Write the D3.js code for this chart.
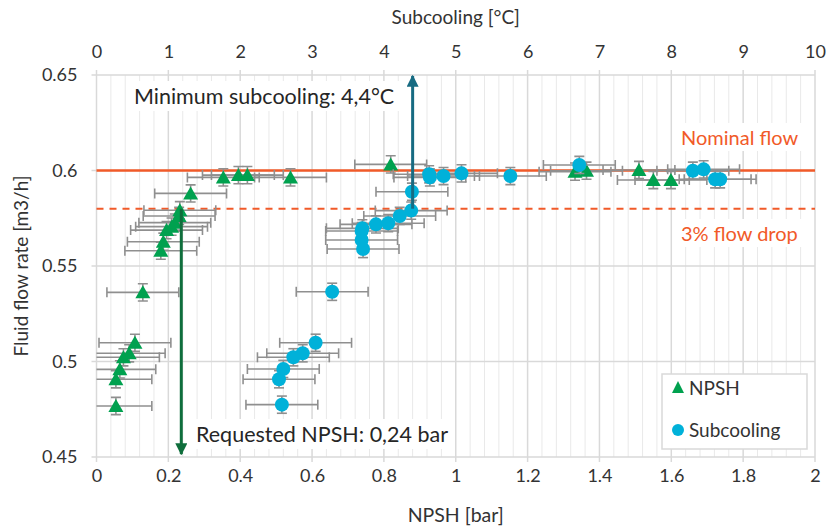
<!DOCTYPE html>
<html><head><meta charset="utf-8">
<script src="https://cdn.jsdelivr.net/npm/d3@7"></script>
<style>
html,body{margin:0;padding:0;background:#fff;}
svg{display:block;font-family:Lato, "Open Sans", sans-serif;}
</style></head>
<body>
<svg id="chart" width="827" height="530"></svg>
<script>
// ---- data ----
// NPSH series: x in bar, y in m3/h
const npshX = [0.054,0.054,0.065,0.075,0.091,0.107,0.129,
  0.179,0.186,0.195,0.209,0.218,0.230,0.232,0.262,
  0.353,0.395,0.420,0.540,0.819,
  1.332,1.364,1.510,1.550,1.599];
const npshY = [0.4767,0.4907,0.4959,0.5022,0.5043,0.5098,0.5362,
  0.5580,0.5627,0.5688,0.5706,0.5727,0.5762,0.5792,0.5880,
  0.5964,0.5976,0.5976,0.5964,0.6032,
  0.5994,0.5999,0.6003,0.5950,0.5950];
// Subcooling series: x in °C (top axis), y in m3/h
const subX = [2.58,2.54,2.60,2.74,2.87,3.05,3.28,
  3.71,3.69,3.69,3.70,3.89,4.06,4.22,4.38,4.39,
  4.63,4.64,4.83,5.08,5.76,
  6.72,8.30,8.45,8.61,8.68];
const subY = [0.4774,0.4907,0.4961,0.5022,0.5043,0.5098,0.5365,
  0.5589,0.5636,0.5683,0.5697,0.5718,0.5724,0.5762,0.5790,0.5889,
  0.5980,0.5964,0.5971,0.5985,0.5971,
  0.6029,0.5999,0.6006,0.5954,0.5954];
const npshErr = 0.1;      // bar
const subErr = 0.5;       // °C
const flowErr = 0.0045;   // m3/h
const nominalFlow = 0.6;
const dropFlow = 0.58;
const requestedNPSH = 0.236;
const minSubcooling = 4.4;
const xTicks = [0,0.2,0.4,0.6,0.8,1,1.2,1.4,1.6,1.8,2];
const xTickLabels = ["0","0.2","0.4","0.6","0.8","1","1.2","1.4","1.6","1.8","2"];
const topTicks = [0,1,2,3,4,5,6,7,8,9,10];
const yTicks = [0.45,0.5,0.55,0.6,0.65];
const yTickLabels = ["0.45","0.5","0.55","0.6","0.65"];

// ---- scales ----
const L=96.5, R=815, T=75, B=457;
const x = d3.scaleLinear().domain([0,2]).range([L,R]);
const xt = d3.scaleLinear().domain([0,10]).range([L,R]);
const y = d3.scaleLinear().domain([0.45,0.65]).range([B,T]);

const svg = d3.select("#chart");
const txt = "#333333", gridMajor="#d9d9d9", gridMinor="#e9e9e9";
const orange="#f15a29", green="#00a14f", blue="#00b1d9", errC="#8f8f8f";

svg.append("defs").append("clipPath").attr("id","clip")
  .append("rect").attr("x",L).attr("y",T-2).attr("width",R-L).attr("height",B-T+4);

// minor vertical grid (0.2 °C steps)
const g = svg.append("g");
g.selectAll("line.minor").data(d3.range(0,10.001,0.2).filter(v=>Math.abs(v-Math.round(v))>1e-6))
  .join("line").attr("x1",d=>xt(d)).attr("x2",d=>xt(d)).attr("y1",T).attr("y2",B)
  .attr("stroke",gridMinor).attr("stroke-width",1);
g.selectAll("line.major").data(topTicks).join("line")
  .attr("x1",d=>xt(d)).attr("x2",d=>xt(d)).attr("y1",T-5).attr("y2",B)
  .attr("stroke",gridMajor).attr("stroke-width",1.5);
g.selectAll("line.h").data(yTicks).join("line")
  .attr("x1",L-5).attr("x2",R).attr("y1",d=>y(d)).attr("y2",d=>y(d))
  .attr("stroke",gridMajor).attr("stroke-width",1.5);
// bottom ticks
g.selectAll("line.bt").data(xTicks).join("line")
  .attr("x1",d=>x(d)).attr("x2",d=>x(d)).attr("y1",B).attr("y2",B+5)
  .attr("stroke",gridMajor).attr("stroke-width",1.5);

// axes labels
const bAxis = d3.axisBottom(x).tickValues(xTicks).tickFormat((d,i)=>xTickLabels[i]).tickSize(0).tickPadding(12);
svg.append("g").attr("transform",`translate(0,${B})`).call(bAxis)
  .call(s=>s.select(".domain").remove())
  .selectAll("text").attr("fill",txt).style("font-size","18px").style("font-family","Lato");
const tAxis = d3.axisTop(xt).tickValues(topTicks).tickSize(0).tickPadding(17);
svg.append("g").attr("transform",`translate(0,${T})`).call(tAxis)
  .call(s=>s.select(".domain").remove())
  .selectAll("text").attr("fill",txt).style("font-size","18px").style("font-family","Lato");
const lAxis = d3.axisLeft(y).tickValues(yTicks).tickFormat((d,i)=>yTickLabels[i]).tickSize(0).tickPadding(19);
svg.append("g").attr("transform",`translate(${L},0)`).call(lAxis)
  .call(s=>s.select(".domain").remove())
  .selectAll("text").attr("fill",txt).style("font-size","18px").style("font-family","Lato");

svg.append("text").attr("x",(L+R)/2).attr("y",24).attr("text-anchor","middle")
  .attr("fill",txt).style("font-size","19px").text("Subcooling [°C]");
svg.append("text").attr("x",(L+R)/2).attr("y",522).attr("text-anchor","middle")
  .attr("fill",txt).style("font-size","19.5px").text("NPSH [bar]");
svg.append("text").attr("transform",`translate(28,${(T+B)/2}) rotate(-90)`).attr("text-anchor","middle")
  .attr("fill",txt).style("font-size","19px").text("Fluid flow rate [m3/h]");

// reference lines
const ref = svg.append("g");
ref.append("line").attr("x1",L).attr("x2",R).attr("y1",y(nominalFlow)).attr("y2",y(nominalFlow))
  .attr("stroke",orange).attr("stroke-width",2.5);
ref.append("line").attr("x1",L).attr("x2",R).attr("y1",y(dropFlow)).attr("y2",y(dropFlow))
  .attr("stroke",orange).attr("stroke-width",2).attr("stroke-dasharray","7,6");

// label helper with white box
function label(xp, yp, s, color, size){
  const grp = svg.append("g");
  const t = grp.append("text").attr("x",xp).attr("y",yp)
    .attr("fill",color).style("font-size",(size||20)+"px").text(s);
  const bb = t.node().getBBox();
  grp.insert("rect","text").attr("x",bb.x-5).attr("y",bb.y-2).attr("width",bb.width+10).attr("height",bb.height+4).attr("fill","#fff");
  return grp;
}
label(681,145,"Nominal flow",orange,20);
label(681,241,"3% flow drop",orange,20);

// data layer
const data = svg.append("g").attr("clip-path","url(#clip)");
const npsh = npshX.map((v,i)=>({x:x(v), x0:x(v-npshErr), x1:x(v+npshErr), y:y(npshY[i]), y0:y(npshY[i]-flowErr), y1:y(npshY[i]+flowErr)}));
const subc = subX.map((v,i)=>({x:xt(v), x0:xt(v-subErr), x1:xt(v+subErr), y:y(subY[i]), y0:y(subY[i]-flowErr), y1:y(subY[i]+flowErr)}));

function errorBars(sel, pts){
  const e = sel.append("g").attr("stroke",errC).attr("stroke-width",1.6).attr("fill","none");
  pts.forEach(p=>{
    e.append("line").attr("x1",p.x0).attr("x2",p.x1).attr("y1",p.y).attr("y2",p.y);
    e.append("line").attr("x1",p.x0).attr("x2",p.x0).attr("y1",p.y-5).attr("y2",p.y+5);
    e.append("line").attr("x1",p.x1).attr("x2",p.x1).attr("y1",p.y-5).attr("y2",p.y+5);
    e.append("line").attr("x1",p.x).attr("x2",p.x).attr("y1",p.y0).attr("y2",p.y1);
    e.append("line").attr("x1",p.x-5).attr("x2",p.x+5).attr("y1",p.y0).attr("y2",p.y0);
    e.append("line").attr("x1",p.x-5).attr("x2",p.x+5).attr("y1",p.y1).attr("y2",p.y1);
  });
}
errorBars(data, npsh);
data.append("g").selectAll("path").data(npsh).join("path")
  .attr("d",d=>`M${d.x},${d.y-7}L${d.x+7.5},${d.y+6}L${d.x-7.5},${d.y+6}Z`).attr("fill",green);
errorBars(data, subc);
data.append("g").selectAll("circle").data(subc).join("circle")
  .attr("cx",d=>d.x).attr("cy",d=>d.y).attr("r",7).attr("fill",blue);

// arrows
const defs = svg.select("defs");
function marker(id,color){
  defs.append("marker").attr("id",id).attr("viewBox","0 0 10 10").attr("refX",9).attr("refY",5)
    .attr("markerWidth",4).attr("markerHeight",4).attr("markerUnits","strokeWidth").attr("orient","auto")
    .append("path").attr("d","M0,0L10,5L0,10Z").attr("fill",color);
}
marker("ag","#0f6e3c"); marker("at","#176b82");
svg.append("line").attr("x1",x(requestedNPSH)).attr("x2",x(requestedNPSH)).attr("y1",y(dropFlow)).attr("y2",y(0.4515))
  .attr("stroke","#0f6e3c").attr("stroke-width",3).attr("marker-end","url(#ag)");
svg.append("line").attr("x1",xt(minSubcooling)).attr("x2",xt(minSubcooling)).attr("y1",y(dropFlow)).attr("y2",y(0.6495))
  .attr("stroke","#176b82").attr("stroke-width",3).attr("marker-end","url(#at)");

label(134,104,"Minimum subcooling: 4,4°C","#262626",21.5);
label(196,442,"Requested NPSH: 0,24 bar","#262626",21.5);

// legend
const lg = svg.append("g");
lg.append("rect").attr("x",662).attr("y",374).attr("width",145).attr("height",75)
  .attr("fill","#fff").attr("stroke","#d9d9d9").attr("stroke-width",1.5);
lg.append("path").attr("d","M678,381L684,393L672,393Z").attr("fill",green);
lg.append("text").attr("x",689).attr("y",395).attr("fill",txt).style("font-size","19px").text("NPSH");
lg.append("circle").attr("cx",678).attr("cy",430).attr("r",6).attr("fill",blue);
lg.append("text").attr("x",689).attr("y",437).attr("fill",txt).style("font-size","19px").text("Subcooling");
</script>
</body></html>
